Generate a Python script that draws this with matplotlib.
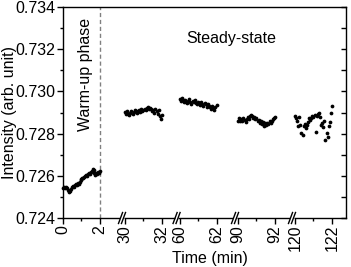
import numpy as np
import matplotlib
matplotlib.use('Agg')
import matplotlib.pyplot as plt
import matplotlib.transforms as mtrans

plt.rcParams['font.family'] = ['Liberation Sans', 'DejaVu Sans']
plt.rcParams['font.size'] = 11.5

#====================================================
#                       Data
#====================================================
# start time of each recorded window (min)
seg_t0 = [0, 30, 60, 90, 120]
tick_labels = ['0', '2', '30', '32', '60', '62', '90', '92', '120', '122']

# warm-up phase 0-2 min
int_0 = [0.7254, 0.72545, 0.7254, 0.72548, 0.72542, 0.72535, 0.7253, 0.72525, 0.7253, 0.72538,
         0.72545, 0.7255, 0.72548, 0.72555, 0.7256, 0.72558, 0.72565, 0.72563, 0.7257, 0.7258,
         0.72585, 0.7259, 0.72588, 0.72595, 0.726, 0.72605, 0.72598, 0.72608, 0.72612, 0.7261,
         0.7262, 0.72625, 0.72632, 0.72628, 0.72615, 0.72605, 0.72612, 0.7261, 0.72618, 0.72615,
         0.72622]
# steady state windows
int_30 = [0.72902, 0.72895, 0.72905, 0.72892, 0.72888, 0.72898, 0.72905, 0.72895, 0.72903, 0.7291,
          0.72905, 0.72898, 0.72908, 0.72912, 0.72903, 0.72915, 0.72908, 0.7291, 0.72918, 0.72912,
          0.7292, 0.72925, 0.72915, 0.72922, 0.72918, 0.72908, 0.72912, 0.729, 0.72915, 0.72905,
          0.72895, 0.7291, 0.72885, 0.72868, 0.7289]
int_60 = [0.72965, 0.72955, 0.72968, 0.7296, 0.72948, 0.72958, 0.72952, 0.72945, 0.72955, 0.72962,
          0.7295, 0.72942, 0.72955, 0.72948, 0.72958, 0.72945, 0.7294, 0.72952, 0.72945, 0.72935,
          0.72948, 0.7294, 0.72932, 0.72945, 0.72938, 0.72928, 0.7294, 0.72932, 0.72925, 0.72918,
          0.7293, 0.72922, 0.72912, 0.72925, 0.72935]
int_90 = [0.72862, 0.72872, 0.72858, 0.72868, 0.7286, 0.72875, 0.72865, 0.72855, 0.7287, 0.72878,
          0.72868, 0.72885, 0.7289, 0.72882, 0.72875, 0.72878, 0.72868, 0.72872, 0.7286, 0.72865,
          0.72852, 0.72858, 0.72845, 0.72855, 0.72838, 0.72848, 0.72842, 0.72852, 0.72845, 0.72858,
          0.7285, 0.72862, 0.72868, 0.72875, 0.7288]
int_120 = [0.72885, 0.72872, 0.72858, 0.72835, 0.7288, 0.72842, 0.72805, 0.72795, 0.72838, 0.72845,
           0.72825, 0.7284, 0.72855, 0.72875, 0.72865, 0.72872, 0.72882, 0.72878, 0.72888, 0.72808,
           0.72885, 0.72895, 0.729, 0.72878, 0.7284, 0.72852, 0.72832, 0.72862, 0.72772, 0.72805,
           0.72785, 0.72838, 0.72855, 0.72898, 0.72932]
segments = [int_0, int_30, int_60, int_90, int_120]

#====================================================
#             Broken axis: window positions
#====================================================
seg_pos = [0, 3.35, 6.3, 9.46, 12.54]
x_max = 15.3

#====================================================
#                       Plotting
#====================================================
fig = plt.figure(figsize=(3.51, 2.67), dpi=100)
ax = fig.add_axes([63/351, 1-218/267, 283/351, 211/267])

for t0, p0, vals in zip(seg_t0, seg_pos, segments):
    t = np.linspace(t0, t0 + 2, len(vals))
    ax.plot(t - t0 + p0, vals, 'ko', ms=2.7, mew=0, clip_on=False, zorder=3)

ax.axvline(2, color='gray', ls='--', lw=1, dashes=(3, 2))

ax.set_xlim(0, x_max)
ax.set_ylim(0.724, 0.734)
ax.set_yticks(np.arange(0.724, 0.7341, 0.002))
ax.set_yticks(np.arange(0.725, 0.734, 0.002), minor=True)
ax.yaxis.set_major_formatter(matplotlib.ticker.FormatStrFormatter('%.3f'))

major_x = []
minor_x = []
for p0 in seg_pos:
    major_x += [p0, p0 + 2]
    minor_x += [p0 + 1]
ax.set_xticks(major_x)
ax.set_xticklabels(tick_labels, rotation=90)
ax.set_xticks(minor_x, minor=True)

ax.tick_params(which='major', direction='out', length=4, width=1, top=False, right=False, pad=1.5)
ax.tick_params(axis='x', which='major', pad=1)
ax.tick_params(which='minor', direction='out', length=2.5, width=1, top=False, right=False)
for s in ax.spines.values():
    s.set_linewidth(1)

# right side ticks pointing inward
ax2 = ax.twinx()
ax2.set_ylim(ax.get_ylim())
ax2.set_yticks(ax.get_yticks())
ax2.set_yticks(np.arange(0.725, 0.734, 0.002), minor=True)
ax2.tick_params(which='both', direction='in', length=3.5, width=1, labelright=False)
for s in ax2.spines.values():
    s.set_visible(False)

# break marks on the bottom axis
trans = mtrans.blended_transform_factory(ax.transData, ax.transAxes)
for p0 in seg_pos[1:]:
    xc = p0 - 0.16
    ax.plot([xc - 0.09, xc + 0.09], [0, 0], color='white', lw=2.5, transform=trans,
            clip_on=False, zorder=5, solid_capstyle='butt')
    for dx in (-0.08, 0.08):
        ax.plot([xc + dx - 0.11, xc + dx + 0.11], [-0.026, 0.026], color='k', lw=1,
                transform=trans, clip_on=False, zorder=6)

ax.text(1.19, 0.948, 'Warm-up phase', rotation=90, ha='center', va='top', transform=trans)
ax.text(9.08, 0.853, 'Steady-state', ha='center', va='center', transform=trans)

ax.set_xlabel('Time (min)', labelpad=0)
ax.xaxis.set_label_coords(0.52, -0.155)
ax.xaxis.label.set_va('top')
ax.set_ylabel('Intensity (arb. unit)')
ax.yaxis.set_label_coords(-0.19, 0.5)
ax.yaxis.label.set_va('center')

plt.savefig('out.png', dpi=100)
